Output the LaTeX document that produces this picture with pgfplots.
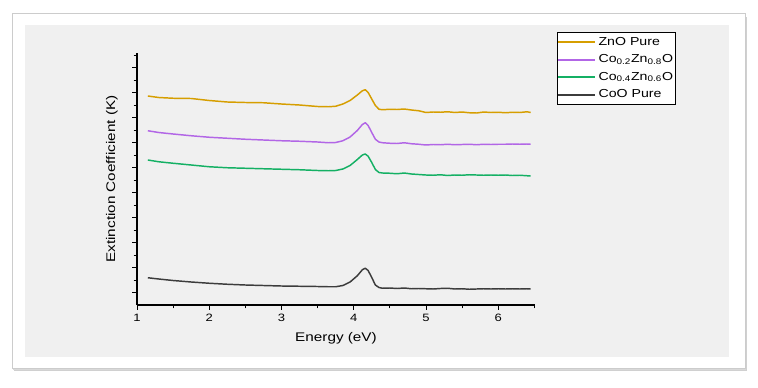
\documentclass[border=0pt]{standalone}
\usepackage{pgfplots}
\pgfplotsset{compat=1.18}
\usepackage{fontspec}
\setmainfont{Liberation Sans}[FakeStretch=1.22]
\definecolor{cgold}{RGB}{214,158,0}
\definecolor{cpurp}{RGB}{178,102,230}
\definecolor{cgreen}{RGB}{20,176,100}
\definecolor{cblack}{RGB}{60,60,60}
\definecolor{panel}{RGB}{240,240,240}
\pgfplotsset{
  legend image code/.code={\draw[#1, line width=1.3pt] (0pt,0pt) -- (27.75pt,0pt);},
}
\begin{document}
\begin{tikzpicture}
% page area (758x387 px, 1px = 0.75pt), origin at axis lower-left (px 137,305)
\fill[white] (-102.75pt,-61.5pt) rectangle (465.75pt,228.75pt);
% shadow
\fill[black!30,opacity=0.6] (-92.25pt,-49.5pt) rectangle (457.5pt,216pt);
\fill[black!15] (-93pt,-48.5pt) rectangle (457pt,217pt);
% frame
\filldraw[fill=white,draw=black!20,line width=0.4pt] (-93.75pt,-47.25pt) rectangle (456pt,219pt);
% gray panel
\fill[panel] (-84pt,-39pt) rectangle (444pt,210pt);
\begin{axis}[
  at={(0pt,0pt)}, anchor=south west,
  scale only axis, width=298.5pt, height=189pt,
  xmin=1, xmax=6.51, ymin=0, ymax=10.08,
  axis lines=left, axis line style={-, line width=0.8pt, black},
  xtick={1,2,3,4,5,6}, minor xtick={1.5,2.5,3.5,4.5,5.5,6.5},
  ytick={0.5,1.5,...,9.5}, minor ytick={1,2,...,10},
  yticklabels={},
  tick align=outside, major tick length=3.5pt, minor tick length=2.5pt,
  every tick/.style={black, line width=0.6pt},
  /pgf/number format/assume math mode=true,
  tick label style={font=\fontsize{8}{9}\selectfont},
  xlabel={Energy (eV)}, ylabel={Extinction Coefficient (K)},
  label style={font=\fontsize{9.4}{11}\selectfont},
  xlabel style={at={(axis description cs:0.5,0)}, anchor=center, yshift=-24.75pt},
  ylabel style={at={(axis description cs:-0.063,0.5)}, anchor=center},
  legend style={at={(1.055,1.083)}, anchor=north west, draw=black,
    fill=white, font=\fontsize{8.7}{10}\selectfont, inner xsep=0pt, inner ysep=1.5pt,
    row sep=1.6pt},
  legend cell align=left,
  every axis plot/.append style={line width=1.1pt, line join=round},
]
\addplot[cgold] coordinates {
(1.15,8.36)(1.3,8.30)(1.5,8.27)(1.75,8.26)(2.0,8.18)(2.25,8.12)(2.5,8.10)(2.75,8.09)
(3.0,8.04)(3.25,8.00)(3.5,7.94)(3.65,7.93)(3.75,7.95)(3.85,8.04)(3.95,8.18)(4.05,8.40)
(4.12,8.57)(4.16,8.61)(4.2,8.50)(4.25,8.24)(4.3,7.98)(4.35,7.83)(4.4,7.81)(4.5,7.83)
(4.6,7.82)(4.7,7.84)(4.8,7.80)(4.9,7.77)(5.0,7.70)(5.1,7.72)(5.2,7.71)(5.3,7.73)
(5.4,7.70)(5.5,7.72)(5.6,7.69)(5.7,7.68)(5.8,7.72)(5.9,7.70)(6.0,7.71)(6.1,7.69)
(6.2,7.71)(6.3,7.70)(6.4,7.73)(6.45,7.70)};
\addlegendentry{ZnO Pure}
\addplot[cpurp] coordinates {
(1.15,6.97)(1.3,6.90)(1.5,6.84)(1.75,6.77)(2.0,6.71)(2.25,6.67)(2.5,6.63)(2.75,6.60)
(3.0,6.57)(3.25,6.55)(3.5,6.52)(3.65,6.49)(3.75,6.50)(3.85,6.57)(3.95,6.72)(4.05,6.98)
(4.12,7.22)(4.16,7.29)(4.2,7.18)(4.25,6.90)(4.3,6.63)(4.35,6.52)(4.4,6.49)(4.5,6.47)
(4.6,6.46)(4.7,6.49)(4.8,6.45)(4.9,6.43)(5.0,6.40)(5.1,6.42)(5.2,6.41)(5.3,6.43)
(5.4,6.41)(5.5,6.42)(5.6,6.43)(5.7,6.41)(5.8,6.43)(5.9,6.42)(6.0,6.43)(6.1,6.43)
(6.2,6.44)(6.3,6.43)(6.4,6.44)(6.45,6.43)};
\addlegendentry{Co\textsubscript{0.2}Zn\textsubscript{0.8}O}
\addplot[cgreen] coordinates {
(1.15,5.80)(1.3,5.73)(1.5,5.67)(1.75,5.60)(2.0,5.53)(2.25,5.49)(2.5,5.47)(2.75,5.45)
(3.0,5.43)(3.25,5.41)(3.5,5.38)(3.65,5.37)(3.75,5.38)(3.85,5.44)(3.95,5.58)(4.05,5.82)
(4.12,6.00)(4.16,6.04)(4.2,5.95)(4.25,5.70)(4.3,5.42)(4.35,5.30)(4.4,5.28)(4.5,5.27)
(4.6,5.25)(4.7,5.28)(4.8,5.24)(4.9,5.22)(5.0,5.20)(5.1,5.19)(5.2,5.21)(5.3,5.18)
(5.4,5.20)(5.5,5.19)(5.6,5.21)(5.7,5.20)(5.8,5.19)(5.9,5.20)(6.0,5.19)(6.1,5.20)
(6.2,5.18)(6.3,5.19)(6.4,5.17)(6.45,5.16)};
\addlegendentry{Co\textsubscript{0.4}Zn\textsubscript{0.6}O}
\addplot[cblack] coordinates {
(1.15,1.09)(1.3,1.04)(1.5,0.98)(1.75,0.92)(2.0,0.87)(2.25,0.83)(2.5,0.80)(2.75,0.78)
(3.0,0.76)(3.25,0.75)(3.5,0.74)(3.65,0.73)(3.75,0.73)(3.85,0.78)(3.95,0.92)(4.05,1.17)
(4.12,1.41)(4.16,1.47)(4.2,1.38)(4.25,1.10)(4.3,0.80)(4.35,0.70)(4.4,0.67)(4.5,0.68)
(4.6,0.66)(4.7,0.68)(4.8,0.65)(4.9,0.66)(5.0,0.65)(5.1,0.64)(5.2,0.66)(5.3,0.67)
(5.4,0.64)(5.5,0.65)(5.6,0.63)(5.7,0.64)(5.8,0.65)(5.9,0.64)(6.0,0.65)(6.1,0.64)
(6.2,0.65)(6.3,0.64)(6.4,0.65)(6.45,0.64)};
\addlegendentry{CoO Pure}
\end{axis}
\end{tikzpicture}
\end{document}
